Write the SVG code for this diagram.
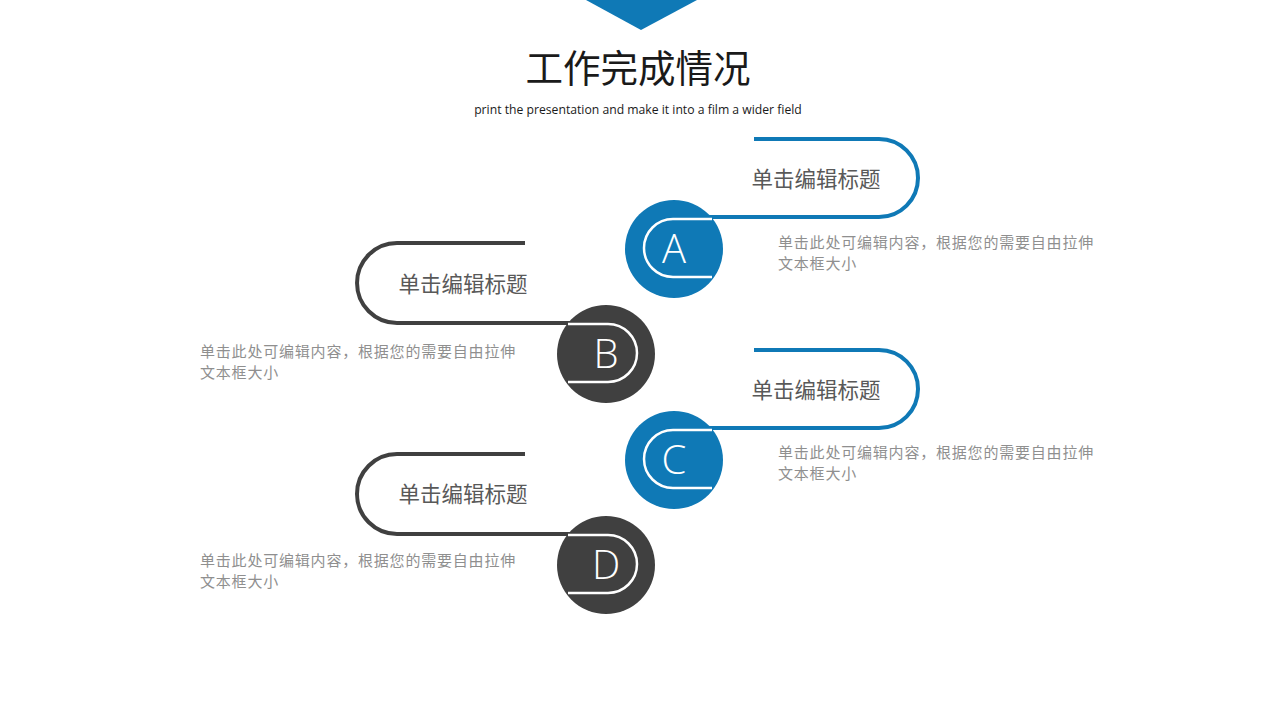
<svg xmlns="http://www.w3.org/2000/svg" width="1280" height="720" viewBox="0 0 1280 720">
<style>
.blue{fill:#0f79b6}
.dark{fill:#404040}
.cb{fill:none;stroke:#0f79b6;stroke-width:4}
.cd{fill:none;stroke:#404040;stroke-width:4}
.w{fill:none;stroke:#ffffff;stroke-width:2.5}
.letter{font-family:"Open Sans","Liberation Sans",sans-serif;font-weight:300;font-size:40px;fill:#ffffff;text-anchor:middle}
.head{font-family:"Noto Sans CJK SC",sans-serif;font-size:21.5px;fill:#595959;text-anchor:middle}
.body{font-family:"Noto Sans CJK SC",sans-serif;font-size:15px;letter-spacing:0.8px;fill:#8f8f8f}
</style>
<rect width="1280" height="720" fill="#ffffff"/>
<polygon class="blue" points="586,0 697,0 641,30"/>
<text x="638" y="82" font-family="Noto Sans CJK SC,sans-serif" font-size="37.5" fill="#1a1a1a" text-anchor="middle">工作完成情况</text>
<text x="638" y="114" font-family="Open Sans,Liberation Sans,sans-serif" font-size="12.2" fill="#1a1a1a" text-anchor="middle">print the presentation and make it into a film a wider field</text>
<g id="connectors">
<path class="cb" d="M754,139 H879 A39,39 0 0 1 879,217 H705"/>
<path class="cd" d="M525,243 H397 A40,40 0 0 0 397,323 H575"/>
<path class="cb" d="M754,350 H879 A39,39 0 0 1 879,428 H705"/>
<path class="cd" d="M525,454 H397 A40,40 0 0 0 397,534 H575"/>
</g>
<g id="nodeA">
<circle class="blue" cx="674" cy="249" r="49"/>
<path class="w" d="M712,219 H673 A29,29 0 0 0 673,277 H712"/>
<text class="letter" x="674" y="263">A</text>
<text class="head" x="816" y="187">单击编辑标题</text>
<text class="body" x="778" y="248">单击此处可编辑内容，根据您的需要自由拉伸</text>
<text class="body" x="778" y="269">文本框大小</text>
</g>
<g id="nodeB">
<circle class="dark" cx="606" cy="354" r="49"/>
<path class="w" d="M568,324 H608 A29,29 0 0 1 608,382 H568"/>
<text class="letter" x="606" y="368">B</text>
<text class="head" x="463" y="292">单击编辑标题</text>
<text class="body" x="200" y="357">单击此处可编辑内容，根据您的需要自由拉伸</text>
<text class="body" x="200" y="378">文本框大小</text>
</g>
<g id="nodeC">
<circle class="blue" cx="674" cy="460" r="49"/>
<path class="w" d="M712,430 H673 A29,29 0 0 0 673,488 H712"/>
<text class="letter" x="674" y="474">C</text>
<text class="head" x="816" y="398">单击编辑标题</text>
<text class="body" x="778" y="458">单击此处可编辑内容，根据您的需要自由拉伸</text>
<text class="body" x="778" y="479">文本框大小</text>
</g>
<g id="nodeD">
<circle class="dark" cx="606" cy="565" r="49"/>
<path class="w" d="M568,535 H608 A29,29 0 0 1 608,593 H568"/>
<text class="letter" x="606" y="579">D</text>
<text class="head" x="463" y="502">单击编辑标题</text>
<text class="body" x="200" y="566">单击此处可编辑内容，根据您的需要自由拉伸</text>
<text class="body" x="200" y="587">文本框大小</text>
</g>
</svg>
